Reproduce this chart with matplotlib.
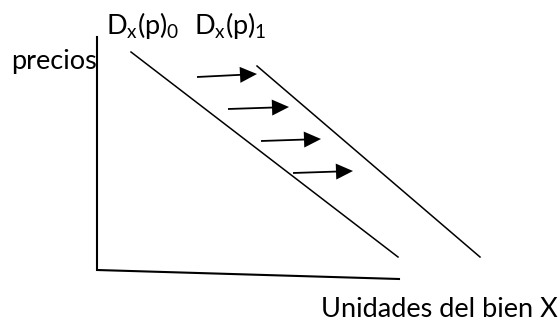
import matplotlib
matplotlib.use("Agg")
import matplotlib.pyplot as plt

plt.rcParams['font.family'] = ['Lato', 'DejaVu Sans']
plt.rcParams['mathtext.fontset'] = 'custom'
plt.rcParams['mathtext.rm'] = 'Lato'
plt.rcParams['mathtext.it'] = 'Lato'

# Diagram geometry (in picture coordinates, y downward)
axis_x = [97, 97, 399]
axis_y = [37, 270, 279]
d0_x = [131, 398]
d0_y = [52, 257]
d1_x = [257, 480]
d1_y = [66, 257]
arrow_tail_x = [197, 228, 261, 293]
arrow_tail_y = [77, 109, 141, 173]
arrow_tip_x = [257, 289, 321, 353]
arrow_tip_y = [74, 107, 139, 171]

labels = {
    'y': 'precios',
    'x': 'Unidades del bien X',
    'd0': r'D$_\mathrm{x}$(p)$_\mathrm{0}$',
    'd1': r'D$_\mathrm{x}$(p)$_\mathrm{1}$',
}

fig = plt.figure(figsize=(5.59, 3.22), dpi=100)
ax = fig.add_axes([0, 0, 1, 1])
ax.set_xlim(0, 559)
ax.set_ylim(322, 0)
ax.axis('off')

ax.plot(axis_x, axis_y, color='black', lw=1.5, solid_joinstyle='miter')
ax.plot(d0_x, d0_y, color='black', lw=1.1)
ax.plot(d1_x, d1_y, color='black', lw=1.1)

for tx, ty, hx, hy in zip(arrow_tail_x, arrow_tail_y, arrow_tip_x, arrow_tip_y):
    ax.arrow(tx, ty, hx - tx, hy - ty, width=1.8, head_width=16, head_length=17,
             length_includes_head=True, color='black', lw=0)

fs = 19.5
ax.text(11, 69, labels['y'], fontsize=fs, ha='left', va='baseline')
ax.text(558, 317, labels['x'], fontsize=fs, ha='right', va='baseline')
ax.text(106, 34, labels['d0'], fontsize=fs, ha='left', va='baseline')
ax.text(194, 34, labels['d1'], fontsize=fs, ha='left', va='baseline')

fig.savefig('out.png', dpi=100)
